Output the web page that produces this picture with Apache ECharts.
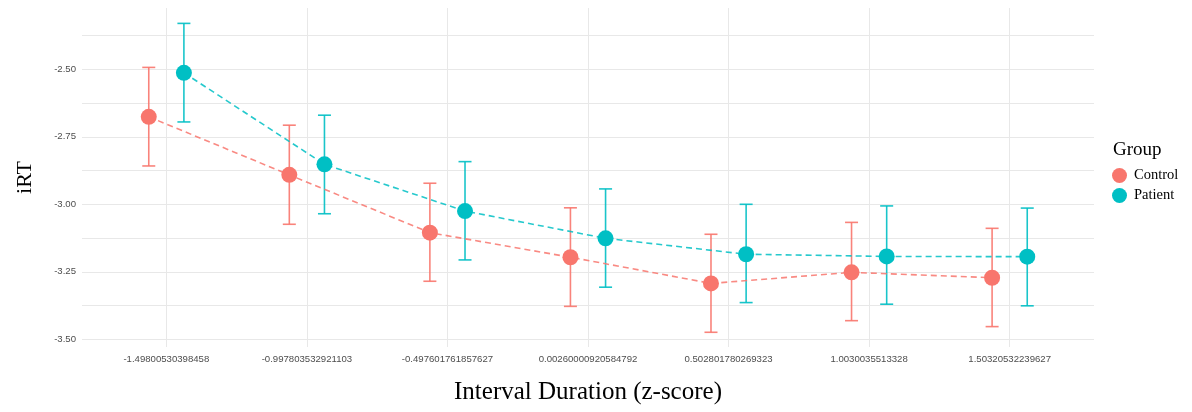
<!DOCTYPE html>
<html>
<head>
<meta charset="utf-8">
<script src="https://cdn.jsdelivr.net/npm/echarts@6/dist/echarts.min.js"></script>
<style>
html,body{margin:0;padding:0;background:#fff;}
#chart{width:1192px;height:412px;}
</style>
</head>
<body>
<div id="chart"></div>
<script>
// ---- data ----
var categories = ["-1.49800530398458", "-0.997803532921103", "-0.497601761857627", "0.00260000920584792", "0.502801780269323", "1.0030035513328", "1.50320532239627"];
var controlMean  = [-2.676, -2.891, -3.105, -3.196, -3.293, -3.252, -3.272];
var controlLower = [-2.858, -3.074, -3.285, -3.378, -3.474, -3.431, -3.453];
var controlUpper = [-2.493, -2.707, -2.922, -3.013, -3.111, -3.067, -3.089];
var patientMean  = [-2.513, -2.852, -3.025, -3.126, -3.185, -3.193, -3.194];
var patientLower = [-2.695, -3.035, -3.206, -3.307, -3.364, -3.370, -3.376];
var patientUpper = [-2.330, -2.670, -2.842, -2.943, -3.000, -3.006, -3.014];
var yTickValues = [-3.5, -3.25, -3.0, -2.75, -2.5];
var yGridValues = [-3.5, -3.375, -3.25, -3.125, -3.0, -2.875, -2.75, -2.625, -2.5, -2.375];
var groups = ["Control", "Patient"];

var colors = {Control: '#F8766D', Patient: '#00BFC4'};
var dodge = 0.125;
var idx = categories.map(function (c, i) { return i; });

function pts(mean, off) {
  return mean.map(function (v, i) { return [i + off, v]; });
}
function bars(lo, hi, off) {
  return lo.map(function (v, i) { return [i + off, v, hi[i]]; });
}

function errRender(color) {
  return function (params, api) {
    var x = api.value(0);
    var p1 = api.coord([x, api.value(2)]);
    var p2 = api.coord([x, api.value(1)]);
    var hw = api.size([0.0925, 0])[0] / 2;
    var st = {stroke: color, lineWidth: 1.6, opacity: 0.9};
    return {
      type: 'group',
      children: [
        {type: 'line', shape: {x1: p1[0], y1: p1[1], x2: p2[0], y2: p2[1]}, style: st},
        {type: 'line', shape: {x1: p1[0] - hw, y1: p1[1], x2: p1[0] + hw, y2: p1[1]}, style: st},
        {type: 'line', shape: {x1: p2[0] - hw, y1: p2[1], x2: p2[0] + hw, y2: p2[1]}, style: st}
      ]
    };
  };
}

var chart = echarts.init(document.getElementById('chart'), null, {renderer: 'canvas'});
var series = [];
var sets = [
  {name: 'Control', mean: controlMean, lo: controlLower, hi: controlUpper, off: -dodge},
  {name: 'Patient', mean: patientMean, lo: patientLower, hi: patientUpper, off: dodge}
];
sets.forEach(function (s) {
  series.push({
    type: 'custom', name: s.name + ' err', z: 2, silent: true,
    renderItem: errRender(colors[s.name]),
    encode: {x: 0, y: [1, 2]},
    data: bars(s.lo, s.hi, s.off)
  });
});
sets.forEach(function (s) {
  series.push({
    type: 'line', name: s.name + ' line', z: 3, silent: true,
    showSymbol: false, symbol: 'none',
    lineStyle: {color: colors[s.name], width: 1.6, type: [6, 4], opacity: 0.85},
    data: pts(s.mean, s.off)
  });
});
sets.forEach(function (s) {
  series.push({
    type: 'scatter', name: s.name, z: 4,
    symbol: 'circle', symbolSize: 16,
    itemStyle: {color: colors[s.name], opacity: 1},
    data: pts(s.mean, s.off)
  });
});

chart.setOption({
  animation: false,
  backgroundColor: '#ffffff',
  grid: {left: 82, right: 98, top: 8, bottom: 65, containLabel: false},
  title: {
    text: 'Group', left: 1113, top: 141, padding: 0,
    textStyle: {fontFamily: 'Liberation Serif', fontSize: 19, fontWeight: 'normal', color: '#000'}
  },
  legend: {
    data: groups, orient: 'vertical', left: 1112, top: 168, padding: 0,
    icon: 'circle', itemWidth: 15, itemHeight: 15, itemGap: 5,
    textStyle: {fontFamily: 'Liberation Serif', fontSize: 14.5, color: '#000', padding: [0, 0, 0, 2]}
  },
  xAxis: {
    type: 'value', min: -0.6, max: 6.6,
    name: 'Interval Duration (z-score)', nameLocation: 'middle', nameGap: 33,
    nameTextStyle: {fontFamily: 'Liberation Serif', fontSize: 25, color: '#000'},
    axisLine: {show: false},
    axisTick: {show: false, customValues: idx},
    axisLabel: {
      customValues: idx, margin: 7,
      fontFamily: 'Liberation Sans', fontSize: 9.6, color: '#4d4d4d',
      formatter: function (v) { return categories[Math.round(v)]; }
    },
    splitLine: {show: true, lineStyle: {color: '#e8e8e8', width: 1}}
  },
  yAxis: {
    type: 'value', min: -3.5285, max: -2.273,
    name: 'iRT', nameLocation: 'middle', nameGap: 46,
    nameTextStyle: {fontFamily: 'Liberation Serif', fontSize: 22, color: '#000'},
    axisLine: {show: false},
    axisTick: {show: false, customValues: yGridValues},
    axisLabel: {
      customValues: yTickValues, margin: 6,
      fontFamily: 'Liberation Sans', fontSize: 9.6, color: '#4d4d4d',
      formatter: function (v) { return v.toFixed(2); }
    },
    splitLine: {show: true, lineStyle: {color: '#e8e8e8', width: 1}}
  },
  series: series
});
</script>
</body>
</html>
